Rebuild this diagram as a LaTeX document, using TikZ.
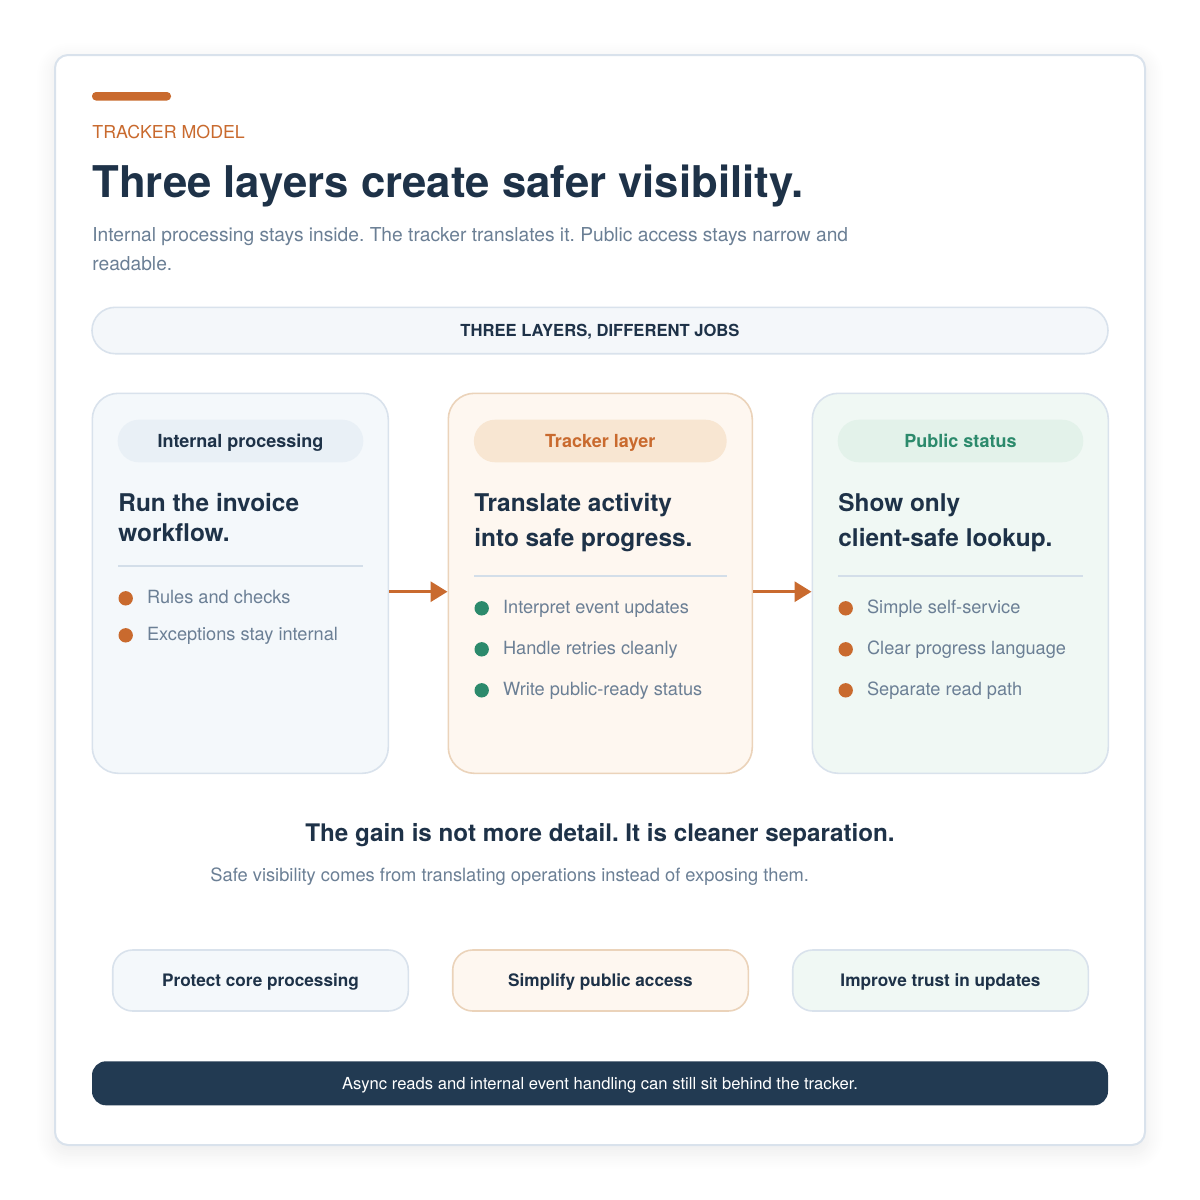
\documentclass[tikz,border=0pt]{standalone}
\usepackage{fontspec}
\setmainfont{TeX Gyre Heros}
\usetikzlibrary{arrows.meta,shadows.blur,calc}
\frenchspacing

\definecolor{ink}{HTML}{1E3248}
\definecolor{muted}{HTML}{6B7F95}
\definecolor{rust}{HTML}{C96A2E}
\definecolor{teal}{HTML}{2C8A6C}
\definecolor{navy}{HTML}{223A52}
\definecolor{edge}{HTML}{D9E2EC}
\definecolor{rulegray}{HTML}{D3DEE9}
\definecolor{bluefill}{HTML}{F4F8FB}
\definecolor{peachfill}{HTML}{FEF7F0}
\definecolor{peachedge}{HTML}{EBD3BA}
\definecolor{mintfill}{HTML}{F0F8F4}
\definecolor{bluepill}{HTML}{E9F0F6}
\definecolor{peachpill}{HTML}{F8E6D2}
\definecolor{mintpill}{HTML}{E3F2EA}
\definecolor{bannerfill}{HTML}{F4F7FA}

\tikzset{
  softshadow/.style={blur shadow={shadow blur steps=10, shadow xshift=0pt, shadow yshift=-3pt, shadow blur radius=9pt, shadow opacity=9}},
  card/.style={draw=edge, line width=0.8pt, rounded corners=13pt, minimum width=148pt, minimum height=190pt, inner sep=0pt},
  pill/.style={rounded corners=10.6pt, minimum height=21.3pt, inner sep=0pt, text height=6.5pt, text depth=0pt, font=\fontsize{9}{11}\selectfont\bfseries},
  heading/.style={anchor=base west, inner sep=0pt, text=ink, font=\fontsize{12.2}{15}\selectfont\bfseries},
  item/.style={anchor=base west, inner sep=0pt, text=muted, font=\fontsize{9.1}{11}\selectfont},
  gainbox/.style={draw, line width=0.8pt, rounded corners=10pt, minimum width=147.8pt, minimum height=30.5pt, inner sep=0pt, text=ink, text height=6.3pt, text depth=0pt, font=\fontsize{8.6}{11}\selectfont\bfseries},
  rulesep/.style={draw=rulegray, line width=0.9pt},
  flow/.style={draw=rust, line width=1.6pt, -{Triangle[length=8.5pt, width=10pt]}}
}

\begin{document}
\begin{tikzpicture}[x=0.5pt, y=-0.5pt]
\useasboundingbox (0,0) rectangle (1200,1200);

% frame
\draw[draw=edge, fill=white, line width=1pt, rounded corners=6.5pt, softshadow] (55,55) rectangle (1145,1145);

% header
\fill[rust, rounded corners=2pt] (92,92) rectangle (171,100.5);
\node[anchor=base west, inner sep=0pt, text=rust, font=\fontsize{8.9}{11}\selectfont] (kicker) at (92,138.3) {TRACKER MODEL};
\node[anchor=base west, inner sep=0pt, text=ink, font=\fontsize{21.85}{26}\selectfont\bfseries] (title) at (92,197.5) {Three layers create safer visibility.};
\node[anchor=base west, inner sep=0pt, text=muted, font=\fontsize{9.6}{11}\selectfont] (sub1) at (92,241.7) {Internal processing stays inside. The tracker translates it. Public access stays narrow and};
\node[anchor=base west, inner sep=0pt, text=muted, font=\fontsize{9.6}{11}\selectfont] (sub2) at (92,270) {readable.};

\node[draw=edge, fill=bannerfill, line width=0.8pt, rounded corners=11.6pt, minimum width=508pt, minimum height=23.2pt, inner sep=0pt, text=ink, text height=5.8pt, text depth=0pt, font=\fontsize{8.3}{10}\selectfont\bfseries] (banner) at (600,330.5) {THREE LAYERS, DIFFERENT JOBS};

% layer cards
\node[card, fill=bluefill] (int) at (240.3,583.3) {};
\node[card, fill=peachfill, draw=peachedge, minimum width=152pt] (trk) at (600.3,583.3) {};
\node[card, fill=mintfill] (pub) at (960.3,583.3) {};

\draw[flow] ($(int.east)+(0,8.4)$) -- ($(trk.west)+(0,8.4)$);
\draw[flow] ($(trk.east)+(0,8.4)$) -- ($(pub.west)+(0,8.4)$);

\node[pill, fill=bluepill, text=ink, minimum width=122.8pt] (intpill) at (240.5,441) {Internal processing};
\node[pill, fill=peachpill, text=rust, minimum width=126.4pt] (trkpill) at (600.3,441) {Tracker layer};
\node[pill, fill=mintpill, text=teal, minimum width=122.8pt] (pubpill) at (960.5,441) {Public status};

\node[heading] (inth1) at (118,511.7) {Run the invoice};
\node[heading] (inth2) at (118,541.7) {workflow.};
\node[heading] (trkh1) at (474,511.7) {Translate activity};
\node[heading] (trkh2) at (474,546.7) {into safe progress.};
\node[heading] (pubh1) at (838,511.7) {Show only};
\node[heading] (pubh2) at (838,546.7) {client-safe lookup.};

\draw[rulesep] (118,566) -- (363,566);
\draw[rulesep] (474,576) -- (727,576);
\draw[rulesep] (838,576) -- (1083,576);

\fill[rust] (125.7,598.3) circle (3.6pt);
\fill[rust] (125.7,635.3) circle (3.6pt);
\node[item] (int1) at (146.7,603.3) {Rules and checks};
\node[item] (int2) at (146.7,640.3) {Exceptions stay internal};

\fill[teal] (481.7,608.3) circle (3.6pt);
\fill[teal] (481.7,649.3) circle (3.6pt);
\fill[teal] (481.7,690.3) circle (3.6pt);
\node[item] (trk1) at (502.7,613.3) {Interpret event updates};
\node[item] (trk2) at (502.7,654.3) {Handle retries cleanly};
\node[item] (trk3) at (502.7,695.3) {Write public-ready status};

\fill[rust] (845.7,608.3) circle (3.6pt);
\fill[rust] (845.7,649.3) circle (3.6pt);
\fill[rust] (845.7,690.3) circle (3.6pt);
\node[item] (pub1) at (866.7,613.3) {Simple self-service};
\node[item] (pub2) at (866.7,654.3) {Clear progress language};
\node[item] (pub3) at (866.7,695.3) {Separate read path};

% takeaway
\node[anchor=base, inner sep=0pt, text=ink, font=\fontsize{12.1}{14}\selectfont\bfseries] (gain) at (600,841) {The gain is not more detail. It is cleaner separation.};
\node[anchor=base west, inner sep=0pt, text=muted, font=\fontsize{9.15}{11}\selectfont] (gainsub) at (210,881) {Safe visibility comes from translating operations instead of exposing them.};

\node[gainbox, draw=edge, fill=bluefill] (protect) at (260.5,980.5) {Protect core processing};
\node[gainbox, draw=peachedge, fill=peachfill] (simplify) at (600.5,980.5) {Simplify public access};
\node[gainbox, draw=edge, fill=mintfill] (trust) at (940.5,980.5) {Improve trust in updates};

\node[fill=navy, rounded corners=7pt, minimum width=508pt, minimum height=22pt, inner sep=0pt, text=white, text height=5.8pt, text depth=0pt, font=\fontsize{8.3}{9}\selectfont] (footer) at (600,1083.3) {Async reads and internal event handling can still sit behind the tracker.};

\end{tikzpicture}
\end{document}
